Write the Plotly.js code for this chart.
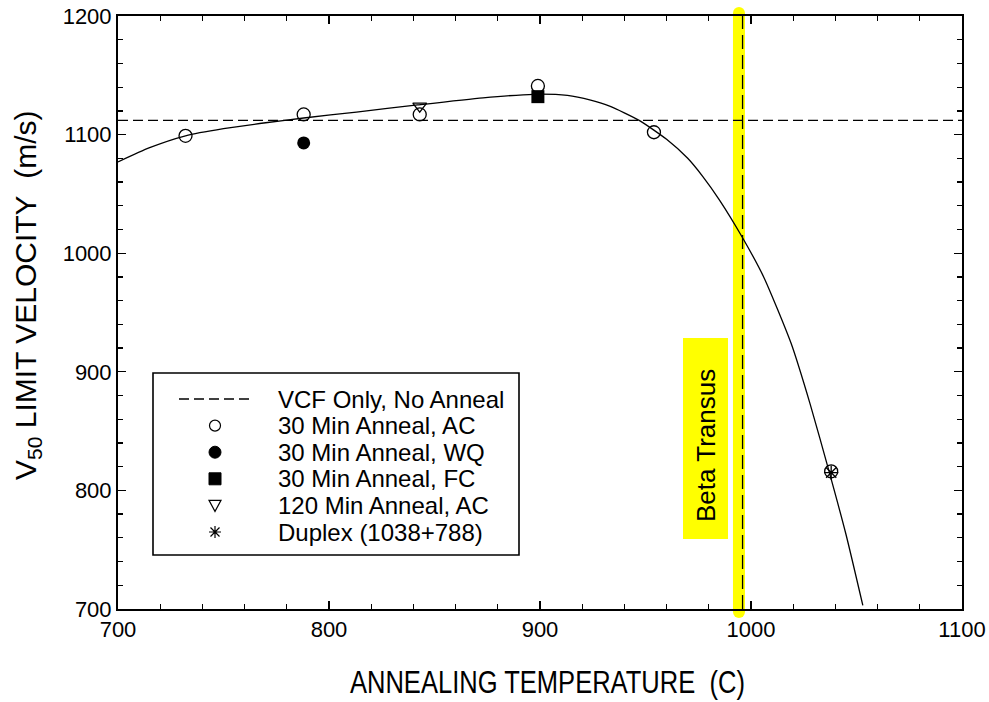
<!DOCTYPE html>
<html>
<head>
<meta charset="utf-8">
<script src="https://cdn.plot.ly/plotly-3.0.1.min.js"></script>
<style>html,body{margin:0;padding:0;background:#fff;}#chart{width:989px;height:702px;}</style>
</head>
<body>
<div id="chart"></div>
<script>
// ---- data ----
const curveT = [700, 715, 732, 750, 770, 788, 813, 842, 873, 897, 913, 924, 933, 947, 960, 970, 977, 985, 996, 1006, 1019, 1028, 1037, 1045, 1053];
const curveV = [1077, 1089, 1099, 1105, 1110, 1114, 1119, 1125, 1131, 1134, 1133, 1129, 1124, 1112, 1096, 1080, 1065, 1045, 1013, 980, 924, 873, 816, 763, 703];
const vcfOnly = 1112;
const acT = [732, 788, 843, 899, 954, 1038];
const acV = [1099, 1117, 1117, 1141, 1102, 816];
const wqT = [788];
const wqV = [1093];
const fcT = [899];
const fcV = [1132];
const ac120T = [843];
const ac120V = [1124];
const duplexT = [1038];
const duplexV = [815];
const betaTransus = 996;
const legendNames = ["VCF Only, No Anneal", "30 Min Anneal, AC", "30 Min Anneal, WQ", "30 Min Anneal, FC", "120 Min Anneal, AC", "Duplex (1038+788)"];
const xRange = [700, 1100];
const yRange = [700, 1200];

// ---- layout helpers (pixel -> paper) ----
const L = 118, R = 27, T = 16, B = 93, W = 989, H = 702;
const PW = W - L - R, PH = H - T - B;
const px = x => (x - L) / PW;
const py = y => (H - B - y) / PH;
const ARIAL = "'Liberation Sans', Arial, sans-serif";

const traces = [
  {x: xRange, y: [vcfOnly, vcfOnly], mode: 'lines', line: {color: '#000', width: 1.3, dash: '10px,5px'}, name: legendNames[0], hoverinfo: 'skip'},
  {x: curveT, y: curveV, mode: 'lines', line: {color: '#000', width: 1.3, shape: 'spline', smoothing: 0.6}, name: 'fit'},
  {x: acT, y: acV, mode: 'markers', marker: {symbol: 'circle-open', size: 13, color: '#000', line: {width: 1.3}}, name: legendNames[1]},
  {x: wqT, y: wqV, mode: 'markers', marker: {symbol: 'circle', size: 13, color: '#000'}, name: legendNames[2]},
  {x: fcT, y: fcV, mode: 'markers', marker: {symbol: 'square', size: 13, color: '#000'}, name: legendNames[3]},
  {x: ac120T, y: ac120V, mode: 'markers', marker: {symbol: 'triangle-down-open', size: 12, color: '#000', line: {width: 1.3}}, name: legendNames[4]},
  {x: duplexT, y: duplexV, mode: 'markers', marker: {symbol: 'asterisk-open', size: 12, color: '#000', line: {width: 1.3}}, name: legendNames[5]}
];

// legend layout (custom box like the original)
const rowY = i => 399 + 26.6 * i;
const symX = 215;
const shapes = [
  // yellow beta transus band
  {type: 'line', xref: 'x', yref: 'paper', x0: betaTransus - 1.7, x1: betaTransus - 1.7, y0: py(612), y1: py(13), line: {color: '#ffff00', width: 12}, layer: 'below'},
  {type: 'circle', xref: 'x', yref: 'paper', xsizemode: 'pixel', ysizemode: 'pixel', xanchor: betaTransus - 1.7, yanchor: py(612), x0: -6, x1: 6, y0: -6, y1: 6, fillcolor: '#ffff00', line: {width: 0}, layer: 'below'},
  {type: 'circle', xref: 'x', yref: 'paper', xsizemode: 'pixel', ysizemode: 'pixel', xanchor: betaTransus - 1.7, yanchor: py(13), x0: -6, x1: 6, y0: -6, y1: 6, fillcolor: '#ffff00', line: {width: 0}, layer: 'below'},
  // dashed beta transus line
  {type: 'line', xref: 'x', yref: 'paper', x0: betaTransus, x1: betaTransus, y0: 0, y1: 1, line: {color: '#000', width: 1.3, dash: '14px,6px'}, layer: 'above'},
  // beta transus label box
  {type: 'rect', xref: 'paper', yref: 'paper', x0: px(683), x1: px(728), y0: py(539), y1: py(338), fillcolor: '#ffff00', line: {width: 0}, layer: 'above'},
  // legend box
  {type: 'rect', xref: 'paper', yref: 'paper', x0: px(153), x1: px(519), y0: py(555), y1: py(373), fillcolor: 'rgba(255,255,255,0)', line: {color: '#000', width: 1.6}, layer: 'above'},
  // legend symbols
  {type: 'line', xref: 'paper', yref: 'paper', x0: px(179), x1: px(251), y0: py(rowY(0)), y1: py(rowY(0)), line: {color: '#000', width: 1.3, dash: '10px,5px'}},
  {type: 'circle', xref: 'paper', yref: 'paper', xsizemode: 'pixel', ysizemode: 'pixel', xanchor: px(symX), yanchor: py(rowY(1)), x0: -5.5, x1: 5.5, y0: -5.5, y1: 5.5, line: {color: '#000', width: 1.2}},
  {type: 'circle', xref: 'paper', yref: 'paper', xsizemode: 'pixel', ysizemode: 'pixel', xanchor: px(symX), yanchor: py(rowY(2)), x0: -6, x1: 6, y0: -6, y1: 6, fillcolor: '#000', line: {color: '#000', width: 1}},
  {type: 'rect', xref: 'paper', yref: 'paper', xsizemode: 'pixel', ysizemode: 'pixel', xanchor: px(symX), yanchor: py(rowY(3)), x0: -6, x1: 6, y0: -6, y1: 6, fillcolor: '#000', line: {color: '#000', width: 1}},
  {type: 'path', xref: 'paper', yref: 'paper', xsizemode: 'pixel', ysizemode: 'pixel', xanchor: px(symX), yanchor: py(rowY(4)), path: 'M-6,5 L6,5 L0,-6 Z', line: {color: '#000', width: 1.2}},
  {type: 'path', xref: 'paper', yref: 'paper', xsizemode: 'pixel', ysizemode: 'pixel', xanchor: px(symX), yanchor: py(rowY(5)), path: 'M-6,0 L6,0 M0,-6 L0,6 M-4.5,-4.5 L4.5,4.5 M-4.5,4.5 L4.5,-4.5', line: {color: '#000', width: 1.2}}
];

const annotations = legendNames.map((t, i) => ({
  text: t, xref: 'paper', yref: 'paper', x: px(276), y: py(rowY(i)), xanchor: 'left', yanchor: 'middle',
  showarrow: false, font: {family: ARIAL, size: 24, color: '#000'}
}));
annotations.push(
  {text: 'Beta Transus', xref: 'paper', yref: 'paper', x: px(706), y: py(446), xanchor: 'center', yanchor: 'middle', textangle: -90, showarrow: false, font: {family: ARIAL, size: 26, color: '#000'}},
  {text: 'V<sub>50</sub> LIMIT VELOCITY\u00A0\u00A0(m/s)', xref: 'paper', yref: 'paper', x: px(27), y: py(295), xanchor: 'center', yanchor: 'middle', textangle: -90, showarrow: false, font: {family: ARIAL, size: 30, color: '#000'}},
  {text: 'ANNEALING TEMPERATURE\u00A0\u00A0(C)', xref: 'paper', yref: 'paper', x: px(547), y: py(702), xanchor: 'center', yanchor: 'bottom', showarrow: false, font: {family: ARIAL, size: 32, color: '#000'}}
);

const axisCommon = {
  showgrid: false, zeroline: false, showline: true, linecolor: '#000', linewidth: 2, mirror: 'ticks',
  ticks: 'inside', ticklen: 8, tickwidth: 1.3, tickcolor: '#000', dtick: 100,
  minor: {dtick: 20, ticks: 'inside', ticklen: 5, tickwidth: 1.3, tickcolor: '#000', showgrid: false}
};

const layout = {
  width: W, height: H, margin: {l: L, r: R, t: T, b: B},
  paper_bgcolor: '#fff', plot_bgcolor: '#fff', showlegend: false,
  xaxis: Object.assign({}, axisCommon, {range: xRange, tick0: 700, tickfont: {family: ARIAL, size: 22, color: '#000'}}),
  yaxis: Object.assign({}, axisCommon, {range: yRange, tick0: 700, tickfont: {family: ARIAL, size: 22, color: '#000'}}),
  shapes: shapes, annotations: annotations
};

Plotly.newPlot('chart', traces, layout, {displayModeBar: false, staticPlot: true}).then(gd => {
  // the original axis title is set in a compressed face: squeeze it to its width
  gd.querySelectorAll('text.annotation-text').forEach(t => {
    if (t.textContent.indexOf('ANNEALING') === 0) {
      t.setAttribute('textLength', '395');
      t.setAttribute('lengthAdjust', 'spacingAndGlyphs');
    }
  });
});
</script>
</body>
</html>
